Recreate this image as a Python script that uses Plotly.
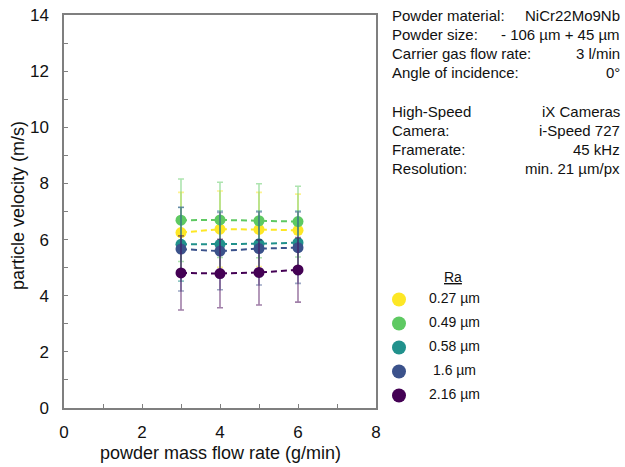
import plotly.graph_objects as go

# ---------------- data ----------------
flow_rate = [3, 4, 5, 6]  # g/min
ra_labels = ["0.27 µm", "0.49 µm", "0.58 µm", "1.6 µm", "2.16 µm"]
colors = ["#fde725", "#5ec962", "#21918c", "#3b528b", "#440154"]
err_colors = ["rgba(253,231,37,0.5)", "rgba(94,201,98,0.5)", "rgba(33,145,140,0.5)",
              "rgba(59,82,139,0.5)", "rgba(68,1,84,0.5)"]

v_027 = [6.25, 6.37, 6.36, 6.33]
e_027 = [1.43, 1.36, 1.32, 1.29]
v_049 = [6.69, 6.70, 6.67, 6.64]
e_049 = [1.47, 1.34, 1.32, 1.26]
v_058 = [5.83, 5.83, 5.85, 5.89]
e_058 = [1.31, 1.19, 1.17, 1.13]
v_16 = [5.66, 5.59, 5.68, 5.71]
e_16 = [1.49, 1.38, 1.30, 1.27]
v_216 = [4.81, 4.79, 4.83, 4.92]
e_216 = [1.32, 1.22, 1.16, 1.15]

velocities = [v_027, v_049, v_058, v_16, v_216]
errors = [e_027, e_049, e_058, e_16, e_216]

x_ticks = [0, 2, 4, 6, 8]
y_ticks = [0, 2, 4, 6, 8, 10, 12, 14]

info_left = ["Powder material:", "Powder size:", "Carrier gas flow rate:", "Angle of incidence:",
             "High-Speed", "Camera:", "Framerate:", "Resolution:"]
info_right = ["NiCr22Mo9Nb", "- 106 µm + 45 µm", "3 l/min", "0°",
              "iX Cameras", "i-Speed 727", "45 kHz", "min. 21 µm/px"]

# ---------------- layout helpers ----------------
W, H = 625, 467
FONT = "Liberation Sans, Arial, sans-serif"
AX = "#7f7f7f"


def px_x(p):
    return p / W


def px_y(p):
    return 1 - p / H


fig = go.Figure()

for vals, errs, c, ec, lab in zip(velocities, errors, colors, err_colors, ra_labels):
    fig.add_trace(go.Scatter(
        x=flow_rate, y=vals, name=lab, mode="lines+markers",
        line=dict(color=c, width=2, dash="6px,4px"),
        marker=dict(color=c, size=11),
        error_y=dict(type="data", array=errs, visible=True, color=ec, thickness=1.6, width=3),
        showlegend=False, xaxis="x", yaxis="y",
    ))

# manual legend on a pixel-mapped overlay axis
leg_x0, leg_y0, leg_dy = 399, 299.5, 24
fig.add_trace(go.Scatter(
    x=[leg_x0] * len(ra_labels),
    y=[leg_y0 + i * leg_dy for i in range(len(ra_labels))],
    mode="markers", marker=dict(color=colors, size=14),
    showlegend=False, hoverinfo="skip", xaxis="x2", yaxis="y2",
))
fig.add_trace(go.Scatter(
    x=[454.5] * len(ra_labels),
    y=[leg_y0 + i * leg_dy for i in range(len(ra_labels))],
    mode="text", text=ra_labels, textposition="middle center",
    textfont=dict(family=FONT, size=14, color="#111"),
    showlegend=False, hoverinfo="skip", xaxis="x2", yaxis="y2",
))

annotations = []
# legend title
annotations.append(dict(text="<u>Ra</u>", x=px_x(453), y=px_y(277), xref="paper", yref="paper",
                        xanchor="center", yanchor="middle", showarrow=False,
                        font=dict(family=FONT, size=14, color="#111")))
# info block
line_y = [15, 34.3, 53.6, 72.9, 111, 130.3, 149.6, 168.9]
for yl, lt, rt in zip(line_y, info_left, info_right):
    annotations.append(dict(text=lt, x=px_x(390), y=px_y(yl), xref="paper", yref="paper",
                            xanchor="left", yanchor="middle", showarrow=False,
                            font=dict(family=FONT, size=15, color="#111")))
    annotations.append(dict(text=rt, x=px_x(622), y=px_y(yl), xref="paper", yref="paper",
                            xanchor="right", yanchor="middle", showarrow=False,
                            font=dict(family=FONT, size=15, color="#111")))
# axis titles
annotations.append(dict(text="powder mass flow rate (g/min)", x=px_x(220), y=px_y(453),
                        xref="paper", yref="paper", xanchor="center", yanchor="middle",
                        showarrow=False, font=dict(family=FONT, size=18, color="#111")))
annotations.append(dict(text="particle velocity (m/s)", x=px_x(18), y=px_y(206),
                        xref="paper", yref="paper", xanchor="center", yanchor="middle",
                        textangle=-90, showarrow=False, font=dict(family=FONT, size=18, color="#111")))

axis_common = dict(
    showgrid=False, zeroline=False, showline=True, linecolor=AX, linewidth=1.5,
    mirror=True, ticks="inside", ticklen=4, tickwidth=1, tickcolor=AX,
    tickfont=dict(family=FONT, size=17, color="#111"),
    automargin=False,
)

fig.update_layout(
    width=W, height=H, autosize=False,
    margin=dict(l=0, r=0, t=0, b=0),
    paper_bgcolor="white", plot_bgcolor="rgba(0,0,0,0)",
    xaxis=dict(domain=[px_x(64), px_x(376)], range=[0, 8], tickvals=x_ticks,
               minor=dict(dtick=1, ticks="inside", ticklen=4, tickcolor=AX),
               ticklabelstandoff=8, anchor="y", **axis_common),
    yaxis=dict(domain=[px_y(408), px_y(15)], range=[0, 14], tickvals=y_ticks,
               minor=dict(dtick=1, ticks="inside", ticklen=4, tickcolor=AX),
               ticklabelstandoff=10, anchor="x", **axis_common),
    xaxis2=dict(domain=[0, 1], range=[0, W], visible=False, anchor="y2", fixedrange=True),
    yaxis2=dict(domain=[0, 1], range=[H, 0], visible=False, anchor="x2", fixedrange=True),
    annotations=annotations,
    showlegend=False,
)

fig.write_html("out.html")
